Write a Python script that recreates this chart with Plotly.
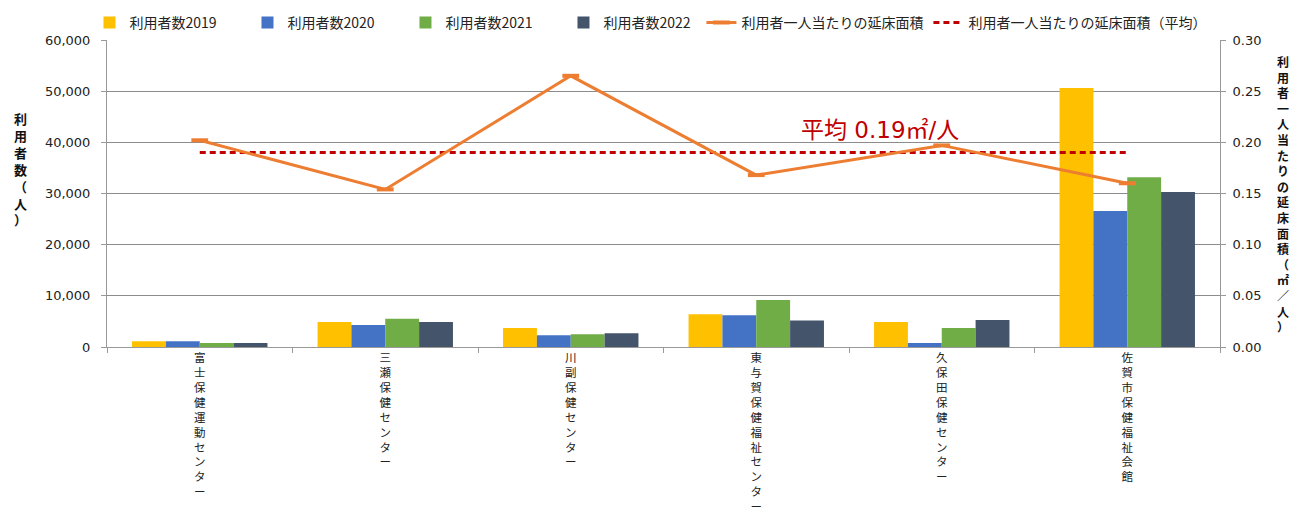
import plotly.graph_objects as go

categories = ["富士保健運動センター", "三瀬保健センター", "川副保健センター",
              "東与賀保健福祉センター", "久保田保健センター", "佐賀市保健福祉会館"]
users_2019 = [1100, 4900, 3700, 6400, 4900, 50600]
users_2020 = [1100, 4300, 2300, 6200, 800, 26600]
users_2021 = [800, 5500, 2500, 9200, 3700, 33200]
users_2022 = [800, 4900, 2700, 5200, 5300, 30300]
area_per_user = [0.202, 0.154, 0.265, 0.168, 0.197, 0.160]
area_avg = 0.19

series_names = ["利用者数2019", "利用者数2020", "利用者数2021", "利用者数2022"]
bar_colors = ["#FFC000", "#4472C4", "#70AD47", "#44546A"]

JP = "Noto Sans CJK JP"
NUM = "DejaVu Sans"

fig = go.Figure()
for i, (name, vals, col) in enumerate(zip(series_names, [users_2019, users_2020, users_2021, users_2022], bar_colors)):
    fig.add_trace(go.Bar(x=categories, y=vals, name=name, legendrank=i + 1, legend="legend",
                         marker=dict(color=col, line=dict(width=0))))

fig.add_trace(go.Scatter(x=categories, y=[area_avg] * len(categories), name="利用者一人当たりの延床面積（平均）",
                         yaxis="y2", mode="lines", legendrank=6, legend="legend2",
                         line=dict(color="#C00000", width=3, dash="6px,4px")))
fig.add_trace(go.Scatter(x=categories, y=area_per_user, name="利用者一人当たりの延床面積",
                         yaxis="y2", mode="lines+markers", legendrank=5, legend="legend2",
                         line=dict(color="#ED7D31", width=3),
                         marker=dict(symbol="line-ew", size=12, line=dict(color="#ED7D31", width=4))))

ticktext = ["<br>".join(list(c)) for c in categories]

fig.update_layout(
    width=1316, height=509,
    margin=dict(l=107, r=96, t=40, b=162),
    plot_bgcolor="white", paper_bgcolor="white",
    barmode="group", bargap=0.27, bargroupgap=0,
    font=dict(family=JP, size=13, color="#222"),
    legend=dict(orientation="h", x=0.068, xref="container", y=0.955, yref="container",
                yanchor="middle", xanchor="left", entrywidth=113, entrywidthmode="pixels",
                font=dict(family=JP, size=14, color="#222"), itemwidth=30),
    legend2=dict(orientation="h", x=0.533, xref="container", y=0.955, yref="container",
                 yanchor="middle", xanchor="left",
                 font=dict(family=JP, size=14, color="#222"), itemwidth=30),
    xaxis=dict(tickmode="array", tickvals=categories, ticktext=ticktext,
               tickangle=0, tickfont=dict(family=JP, size=11.5, color="#222"),
               showline=True, linecolor="#999", ticks="outside", tickson="boundaries",
               ticklen=5, tickcolor="#999", automargin=False),
    yaxis=dict(range=[0, 60000], dtick=10000, tickformat=",", showgrid=True,
               gridcolor="#8c8c8c", gridwidth=1, showline=True, linecolor="#999",
               ticks="outside", ticklen=5, tickcolor="#999", ticklabelstandoff=8,
               tickfont=dict(family=NUM, size=13, color="#222"), automargin=False, zeroline=False),
    yaxis2=dict(range=[0, 0.30], dtick=0.05, tickformat=".2f", overlaying="y", side="right",
                showgrid=False, showline=True, linecolor="#999", ticks="outside",
                ticklen=5, tickcolor="#999", ticklabelstandoff=4,
                tickfont=dict(family=NUM, size=13, color="#222"), automargin=False, zeroline=False),
)

left_title = "利用者数（人）"
right_title = "利用者一人当たりの延床面積（㎡／人）"
fig.add_annotation(text="<br>".join(list(left_title)), xref="paper", yref="paper",
                   x=-0.078, y=0.58, xanchor="center", yanchor="middle", showarrow=False,
                   font=dict(family=JP, size=13, color="#111", weight="bold"))
fig.add_annotation(text="<br>".join(list(right_title)), xref="paper", yref="paper",
                   x=1.057, y=0.5, xanchor="center", yanchor="middle", showarrow=False,
                   font=dict(family=JP, size=12, color="#111", weight="bold"))
fig.add_annotation(text="平均 0.19㎡/人", x=categories[4], y=0.212, xref="x", yref="y2",
                   xanchor="right", yanchor="middle", xshift=19, showarrow=False,
                   font=dict(family=NUM + ", " + JP, size=23, color="#C00000"))

fig.write_html("out.html", config={"displayModeBar": False},
               post_script="document.body.style.margin='0px';")
